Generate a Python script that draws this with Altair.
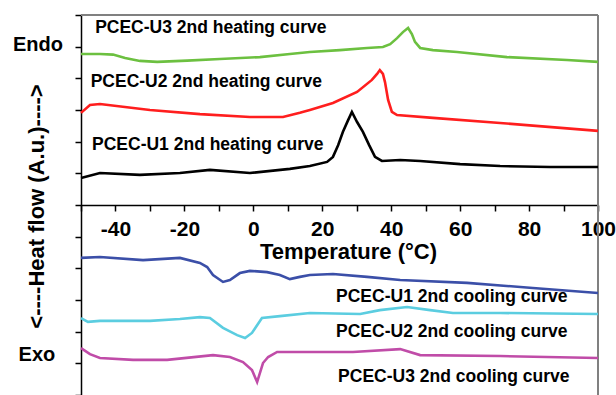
import altair as alt
import pandas as pd

FONT = "Liberation Sans"

# ---- curve data (temperature in °C, heat flow in arbitrary units) ----
t_u3_heat = [-50, -44.5, -40.7, -37.2, -32.9, -27.9, -19.2, -9.7, 1.9, 10.6, 16.4, 25.1, 33.0, 37.6, 39.7, 41.7, 43.4, 44.9, 46.0, 46.9, 48.4, 52.1, 59.1, 73.6, 91.0, 100]
h_u3_heat = [10.77, 10.77, 10.75, 10.64, 10.55, 10.52, 10.56, 10.61, 10.67, 10.77, 10.83, 10.89, 10.96, 10.99, 11.08, 11.27, 11.46, 11.59, 11.40, 11.15, 10.96, 10.89, 10.83, 10.67, 10.58, 10.52]

t_u2_heat = [-50, -47.4, -44.5, -30.0, -15.5, -1.0, 8.6, 13.5, 16.4, 23.1, 30.1, 34.4, 35.9, 36.7, 37.6, 38.2, 39.1, 40.2, 41.7, 52.1, 71.6, 100]
h_u2_heat = [8.91, 9.16, 9.19, 9.00, 8.87, 8.78, 8.78, 8.91, 9.00, 9.22, 9.57, 9.95, 10.14, 10.26, 10.14, 9.88, 9.32, 8.94, 8.84, 8.75, 8.59, 8.34]

t_u1_heat = [-50, -44.5, -32.9, -21.3, -12.6, -1.0, 10.6, 16.4, 21.4, 23.1, 24.6, 26.0, 27.5, 28.6, 30.1, 31.8, 33.6, 35.3, 37.3, 42.6, 48.4, 60.0, 71.6, 86.1, 100]
h_u1_heat = [6.85, 7.01, 6.95, 7.01, 7.11, 7.01, 7.14, 7.23, 7.36, 7.52, 7.89, 8.31, 8.68, 8.94, 8.62, 8.31, 7.89, 7.52, 7.39, 7.42, 7.39, 7.29, 7.23, 7.20, 7.20]

t_u1_cool = [-50, -44.5, -32.0, -21.3, -15.5, -13.4, -11.7, -8.8, -6.8, -3.9, -1.0, 4.0, 7.7, 10.6, 13.5, 16.4, 23.1, 33.0, 42.6, 62.0, 81.1, 100]
h_u1_cool = [4.33, 4.36, 4.26, 4.33, 4.17, 4.04, 3.79, 3.57, 3.63, 3.85, 3.92, 3.88, 3.79, 3.66, 3.73, 3.79, 3.82, 3.73, 3.63, 3.54, 3.38, 3.22]

t_u2_cool = [-50, -48.0, -44.5, -30.0, -21.3, -15.5, -12.6, -8.8, -4.7, -2.4, -0.4, 2.5, 7.7, 16.4, 31.0, 36.7, 44.6, 51.3, 57.9, 71.6, 100]
h_u2_cool = [2.43, 2.31, 2.34, 2.34, 2.40, 2.46, 2.43, 2.12, 1.89, 1.80, 1.96, 2.43, 2.49, 2.59, 2.56, 2.68, 2.78, 2.68, 2.59, 2.59, 2.56]

t_u3_cool = [-50, -47.4, -44.5, -34.9, -25.0, -11.7, -6.8, -3.0, -0.4, 1.1, 2.8, 4.3, 6.9, 16.4, 28.9, 42.6, 48.4, 71.6, 100]
h_u3_cool = [1.48, 1.29, 1.17, 1.11, 1.11, 1.26, 1.20, 1.04, 0.79, 0.41, 1.01, 1.20, 1.36, 1.36, 1.36, 1.45, 1.26, 1.23, 1.17]

series_names = ["U3 heating", "U2 heating", "U1 heating", "U1 cooling", "U2 cooling", "U3 cooling"]
series_colors = ["#6cc040", "#ff1e1e", "#000000", "#3b4fa8", "#5bcde0", "#c04ca8"]

# ---- curve labels ----
label_texts = ["PCEC-U3 2nd heating curve", "PCEC-U2 2nd heating curve", "PCEC-U1 2nd heating curve",
               "PCEC-U1 2nd cooling curve", "PCEC-U2 2nd cooling curve", "PCEC-U3 2nd cooling curve"]
label_t = [-45.9, -47.2, -46.8, 24.0, 24.0, 24.6]
label_h = [11.59, 9.88, 7.89, 3.09, 1.99, 0.57]

side_texts = ["Endo", "Exo"]
side_t = [-62.5, -62.8]
side_h = [11.05, 1.26]

x_ticks = [-50, -40, -30, -20, -10, 0, 10, 20, 30, 40, 50, 60, 70, 80, 90, 100]
y_ticks = list(range(0, 13))

all_t = [t_u3_heat, t_u2_heat, t_u1_heat, t_u1_cool, t_u2_cool, t_u3_cool]
all_h = [h_u3_heat, h_u2_heat, h_u1_heat, h_u1_cool, h_u2_cool, h_u3_cool]
rows = []
for name, ts, hs in zip(series_names, all_t, all_h):
    for t, h in zip(ts, hs):
        rows.append({"series": name, "T": t, "H": h})
curves = pd.DataFrame(rows)
labels = pd.DataFrame({"text": label_texts, "T": label_t, "H": label_h})
sides = pd.DataFrame({"text": side_texts, "T": side_t, "H": side_h})

W, H = 517, 380

xscale = alt.Scale(domain=[-50, 100], nice=False, zero=False)
yscale = alt.Scale(domain=[0, 12], nice=False, zero=False)

x_axis = alt.Axis(values=x_ticks, offset=-H / 2, grid=False, domain=True, labels=True,
                  labelExpr="datum.value % 20 == 0 ? replace(datum.label, '\u2212', '-') : ''",
                  title="Temperature (°C)", titleX=267, titleY=46,
                  titleBaseline="middle", titleAlign="center", titleFontSize=22,
                  labelPadding=7, tickSize=6, labelFlush=False, labelOverlap=False,
                  labelFontSize=21)
y_axis = alt.Axis(values=y_ticks, labels=False, grid=False, tickSize=6, domain=True,
                  title="<----Heat flow (A.u.)---->", titleX=-45, titleY=H / 2 + 1,
                  titleAlign="center", titleBaseline="middle", titleAngle=270, titleFontSize=22)

X = alt.X("T:Q", scale=xscale, axis=x_axis)
Y = alt.Y("H:Q", scale=yscale, axis=y_axis)

lines = alt.Chart(curves).mark_line(strokeWidth=2.6).encode(
    x=X, y=Y,
    color=alt.Color("series:N", scale=alt.Scale(domain=series_names, range=series_colors), legend=None),
)

label_layer = alt.Chart(labels).mark_text(
    font=FONT, fontSize=17.5, fontWeight="bold", align="left", baseline="middle", color="black"
).encode(x=X, y=Y, text="text:N")

side_layer = alt.Chart(sides).mark_text(
    font=FONT, fontSize=20, fontWeight="bold", align="center", baseline="middle", color="black"
).encode(x=X, y=Y, text="text:N")

top_border = alt.Chart(labels).mark_rule(color="#808080", strokeWidth=1.5).encode(
    x=alt.value(0), x2=alt.value(W), y=alt.value(0))
right_border = alt.Chart(labels).mark_rule(color="#808080", strokeWidth=1.5).encode(
    x=alt.value(W), y=alt.value(0), y2=alt.value(H))

chart = alt.layer(top_border, right_border, lines, label_layer, side_layer).properties(
    width=W, height=H,
    autosize=alt.AutoSizeParams(type="none"),
    padding={"left": 81, "top": 15, "right": 18, "bottom": 0},
).configure_view(stroke=None).configure_axis(
    labelFont=FONT, labelFontSize=20, labelFontWeight="bold", labelColor="black",
    titleFont=FONT, titleFontSize=21, titleFontWeight="bold", titleColor="black",
    domainColor="black", domainWidth=1.5, tickColor="black", tickWidth=1.5,
)

chart.save("out.html", embed_options={"renderer": "svg", "actions": False})
